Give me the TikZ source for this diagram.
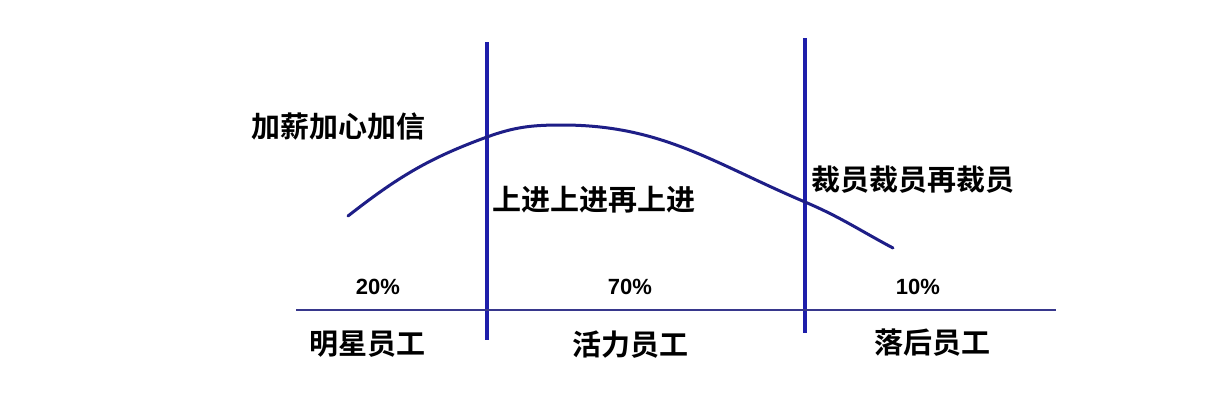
\documentclass[tikz,border=0pt]{standalone}
\usepackage{fontspec}
\setmainfont{Liberation Sans}
\newfontfamily\cjkfont{Noto Sans CJK SC}[BoldFont={* Bold}]
\usepackage{tikz}
\usetikzlibrary{positioning}

\begin{document}
\begin{tikzpicture}[
    x=0.5pt, y=-0.5pt,
    label/.style={font=\cjkfont\bfseries\fontsize{14.5}{16}\selectfont,
        inner sep=0pt, anchor=center},
    share/.style={font=\bfseries\fontsize{11}{13}\selectfont,
        inner sep=0pt, anchor=center},
    divider/.style={draw=cDivide, line width=1.6pt},
    axis/.style={draw=cAxis, line width=1.1pt},
    bell/.style={draw=cCurve, line width=1.5pt, line cap=round}
]
\definecolor{cDivide}{RGB}{30,30,170}
\definecolor{cAxis}{RGB}{55,55,140}
\definecolor{cCurve}{RGB}{30,30,135}

\useasboundingbox[fill=white] (0,0) rectangle (1220,402);

% Dividers and axis
\coordinate (d1top) at (487,42);
\coordinate (d1bot) at (487,340);
\coordinate (d2top) at (805,38);
\coordinate (d2bot) at (805,333);
\coordinate (axl) at (296,310);
\coordinate (axr) at (1056,310);

\draw[divider] (d1top) -- (d1bot);
\draw[divider] (d2top) -- (d2bot);
\draw[axis] (axl) -- (axr);

% Curve
\coordinate (c0) at (348,216);
\coordinate (c1) at (487,137);
\coordinate (c2) at (562,125);
\coordinate (c3) at (805,202);
\coordinate (c4) at (893,248);
\draw[bell] (c0) to[out=38,in=200] (c1) to[out=20,in=180] (c2)
    to[out=0,in=157] (c3) to[out=-23,in=152] (c4);

% Texts
\node[label] (raise) at (338,127) {加薪加心加信};
\node[label, anchor=west] (advance) at (492,200) {上进上进再上进};
\node[label, anchor=west] (cut) at (811,180) {裁员裁员再裁员};

\node[share] (p20) at (378,287) {20\%};
\node[share] (p70) at (630,287) {70\%};
\node[share] (p10) at (918,287) {10\%};

\node[label] (star) at (367,344) {明星员工};
\node[label] (vital) at (630,345) {活力员工};
\node[label] (lag) at (932,343) {落后员工};

\end{tikzpicture}
\end{document}
